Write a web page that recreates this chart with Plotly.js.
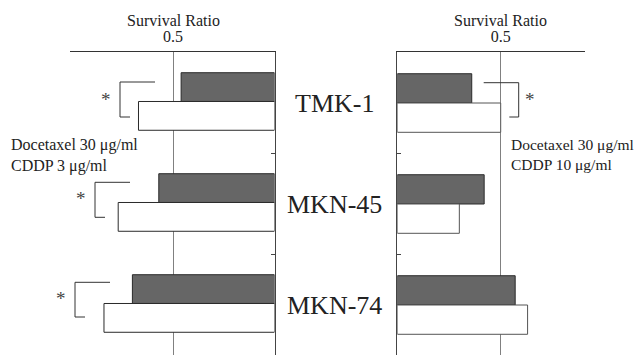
<!DOCTYPE html>
<html>
<head>
<meta charset="utf-8">
<script src="https://cdn.plot.ly/plotly-3.0.1.min.js"></script>
<style>html,body{margin:0;padding:0;background:#fff;}#chart{width:637px;height:355px;}</style>
</head>
<body>
<div id="chart"></div>
<script>
// ---- data ----
var cellLines = ['TMK-1', 'MKN-45', 'MKN-74'];
var leftDark = [0.46, 0.57, 0.70];   // Docetaxel 30 µg/ml + CDDP 3 µg/ml panel, filled bars
var leftWhite = [0.67, 0.77, 0.84];  // open bars
var rightDark = [0.36, 0.42, 0.57];  // Docetaxel 30 µg/ml + CDDP 10 µg/ml panel, filled bars
var rightWhite = [0.50, 0.30, 0.63]; // open bars
var xTickVals = [0.5];
var xTickText = ['0.5'];
var axisTitle = 'Survival Ratio';
var leftCond = ['Docetaxel 30 \u03bcg/ml', 'CDDP 3 \u03bcg/ml'];
var rightCond = ['Docetaxel 30 \u03bcg/ml', 'CDDP 10 \u03bcg/ml'];

// ---- helpers (pixel -> paper) ----
var W = 637, H = 355;
function px(x) { return x / W; }
function py(y) { return 1 - y / H; }
var FONT = 'Liberation Serif';
var DARK = '#666666', EDGE = '#2a2a2a';

var traces = [
  {type: 'bar', orientation: 'h', name: 'filled', y: cellLines, x: leftDark, xaxis: 'x', yaxis: 'y',
   width: 0.285, offset: -0.295, marker: {color: DARK, line: {color: EDGE, width: 1}}, hoverinfo: 'x+y'},
  {type: 'bar', orientation: 'h', name: 'open', y: cellLines, x: leftWhite, xaxis: 'x', yaxis: 'y',
   width: 0.285, offset: -0.01, marker: {color: '#ffffff', line: {color: EDGE, width: 1}}, hoverinfo: 'x+y'},
  {type: 'bar', orientation: 'h', name: 'filled', y: cellLines, x: rightDark, xaxis: 'x2', yaxis: 'y2',
   width: 0.29, offset: -0.285, marker: {color: DARK, line: {color: EDGE, width: 1}}, hoverinfo: 'x+y'},
  {type: 'bar', orientation: 'h', name: 'open', y: cellLines, x: rightWhite, xaxis: 'x2', yaxis: 'y2',
   width: 0.29, offset: 0.005, marker: {color: '#ffffff', line: {color: '#555', width: 1}}, hoverinfo: 'x+y'}
];

var yBase = {
  type: 'category', range: [2.5, -0.5], showline: true, linecolor: '#444', linewidth: 1,
  showgrid: false, zeroline: false, showticklabels: false, ticks: 'inside', ticklen: 4,
  tickcolor: '#444', tickson: 'boundaries', domain: [0, py(52)], fixedrange: true
};
var xBase = {
  side: 'top', showline: true, linecolor: '#333', linewidth: 1, zeroline: false,
  showgrid: true, gridcolor: '#808080', gridwidth: 1,
  tickmode: 'array', tickvals: xTickVals, ticktext: xTickText,
  ticks: 'outside', ticklen: 3, tickcolor: 'rgba(0,0,0,0)',
  tickfont: {family: FONT, size: 16, color: '#222'}, fixedrange: true
};

var layout = {
  width: W, height: H, margin: {l: 0, r: 0, t: 0, b: 0},
  paper_bgcolor: '#fff', plot_bgcolor: 'rgba(0,0,0,0)',
  showlegend: false, barmode: 'overlay',
  font: {family: FONT, color: '#222'},
  xaxis: Object.assign({}, xBase, {domain: [px(70), px(274.5)], range: [1.0074, 0], anchor: 'y'}),
  yaxis: Object.assign({}, yBase, {side: 'right', anchor: 'x'}),
  xaxis2: Object.assign({}, xBase, {domain: [px(397.3), px(585)], range: [0, 0.9076], anchor: 'y2'}),
  yaxis2: Object.assign({}, yBase, {side: 'left', anchor: 'x2'}),
  annotations: [],
  shapes: []
};

// axis titles centred over the 0.5 tick
layout.annotations.push({text: axisTitle, xref: 'x', x: 0.5, yref: 'paper', y: py(20), showarrow: false,
  xanchor: 'center', yanchor: 'middle', font: {family: FONT, size: 16, color: '#222'}});
layout.annotations.push({text: axisTitle, xref: 'x2', x: 0.5, yref: 'paper', y: py(20), showarrow: false,
  xanchor: 'center', yanchor: 'middle', font: {family: FONT, size: 16, color: '#222'}});

// cell line labels in the middle
cellLines.forEach(function (c) {
  layout.annotations.push({text: c, xref: 'paper', x: px(334.5), yref: 'y', y: c, yshift: -1,
    showarrow: false, xanchor: 'center', yanchor: 'middle', font: {family: FONT, size: 26, color: '#222'}});
});

// condition text (two lines each)
layout.annotations.push({text: leftCond.join('<br>'), xref: 'paper', x: px(10), yref: 'paper', y: py(155),
  showarrow: false, xanchor: 'left', yanchor: 'middle', align: 'left', borderpad: 0,
  font: {family: FONT, size: 16, color: '#222'}});
layout.annotations.push({text: rightCond.join('<br>'), xref: 'paper', x: px(510), yref: 'paper', y: py(154),
  showarrow: false, xanchor: 'left', yanchor: 'middle', align: 'left', borderpad: 0,
  font: {family: FONT, size: 15.5, color: '#222'}});

// significance brackets and asterisks
var brackets = [
  {path: [[155, 82], [120, 82], [120, 117], [130, 117]], star: [106, 97]},
  {path: [[130, 182.3], [95, 182.3], [95, 217.3], [105, 217.3]], star: [81, 196.7]},
  {path: [[110, 282.3], [75, 282.3], [75, 317], [85, 317]], star: [61, 296.7]},
  {path: [[483.7, 82.7], [518.7, 82.7], [518.7, 117], [509.3, 117]], star: [530, 97]}
];
brackets.forEach(function (b) {
  var d = b.path.map(function (p, i) { return (i ? 'L' : 'M') + px(p[0]) + ',' + py(p[1]); }).join(' ');
  layout.shapes.push({type: 'path', xref: 'paper', yref: 'paper', path: d, line: {color: '#333', width: 1}});
  layout.annotations.push({text: '*', xref: 'paper', x: px(b.star[0]), yref: 'paper', y: py(b.star[1] + 2),
    showarrow: false, xanchor: 'center', yanchor: 'middle', font: {family: FONT, size: 19, color: '#444'}});
});

Plotly.newPlot('chart', traces, layout, {displayModeBar: false, staticPlot: true});
</script>
</body>
</html>
